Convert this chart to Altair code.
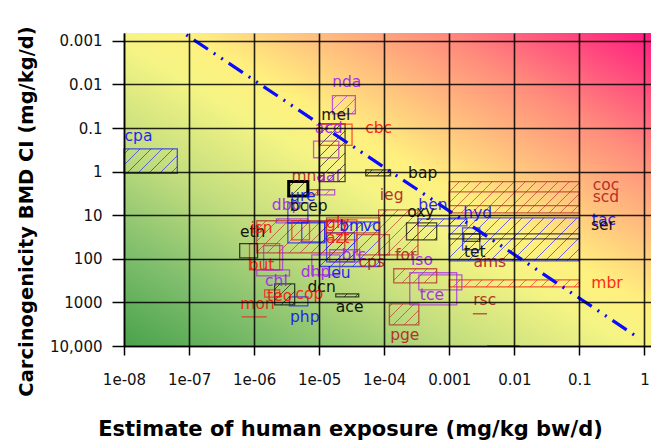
import altair as alt
import numpy as np
import pandas as pd

# ---------------- data ----------------
# rectangles: exposure range (x) and BMD range (y)
rect_name = ['cpa', 'nda', 'mel', 'acd', 'cbc', 'bap', 'aaf', 'mna', 'ure_box', 'dbp',
             'ure', 'bm', 'pm', 'gly', 'azt', 'leu', 'vc', 'isn', 'cpx', 'eth',
             'but', 'chl', 'teo', 'mon', 'dcn', 'php', 'ace', 'dhp', 'brc', 'cps',
             'gly2', 'ieg', 'oxy', 'ben', 'hyd', 'tet', 'coc', 'scd', 'tac', 'ser',
             'mbr', 'rsc', 'pge', 'tce', 'iso', 'for', 'low']
rect_x1 = [1e-8, 1.6e-5, 1.0e-5, 8.2e-6, 1.0e-5, 5.2e-5, 9.5e-6, 6.9e-6, 3.4e-6, 2.2e-6,
           3.3e-6, 3.3e-6, 5.4e-6, 3.8e-6, 1.3e-5, 1.3e-5, 1.02e-5, 8.5e-7, 1.1e-6, 6.0e-7,
           1.4e-6, 1.1e-6, 1.45e-6, 6.4e-7, 2.07e-6, 3.5e-6, 1.8e-5, 7.7e-6, 1.45e-5, 3.8e-5,
           1.3e-5, 8.2e-5, 2.2e-4, 3.3e-4, 1.6e-3, 1.67e-3, 1.0e-3, 1.0e-3, 1.0e-3, 1.0e-3,
           1.0e-3, 2.3e-3, 1.2e-4, 2.47e-4, 3.4e-4, 1.4e-4, 3.8e-3]
rect_x2 = [6.6e-8, 3.6e-5, 2.5e-5, 2.0e-5, 3.2e-5, 1.25e-4, 1.73e-5, 9.5e-6, 6.7e-6, 6.7e-6,
           6.7e-6, 1.22e-5, 1.22e-5, 7.1e-6, 3.8e-5, 3.5e-5, 8.5e-5, 2.47e-6, 2.47e-5, 1.13e-6,
           2.74e-6, 3.5e-6, 2.47e-6, 1.56e-6, 4.2e-6, 6.7e-6, 4.05e-5, 2.07e-5, 4.2e-5, 1.2e-4,
           8.5e-5, 3.3e-4, 6.4e-4, 1.86e-3, 2.94e-3, 2.94e-3, 0.1, 0.1, 0.1, 0.1,
           0.1, 3.8e-3, 3.4e-4, 1.3e-3, 1.56e-3, 6.4e-4, 1.2e-2]
rect_y1 = [0.3, 0.018, 0.08, 0.2, 0.081, 0.91, 2.6, 2.6, 1.69, 12.1,
           5.2, 14.9, 14.2, 13.4, 12.8, 25.3, 14.2, 45, 13.4, 45,
           50, 179, 514, 2140, 374, 745, 635, 81, 62, 28,
           11.5, 7.5, 14.9, 12.1, 19.5, 26.7, 1.7, 2.9, 11.5, 26.7,
           303, 1820, 1080, 209, 233, 169, 10000]
rect_y2 = [1.1, 0.047, 1.7, 0.48, 0.25, 1.25, 3.4, 3.4, 3.6, 14.9,
           14.9, 43, 40.7, 36.6, 36.6, 117, 150, 179, 73, 95,
           179, 245, 760, 2140, 1135, 1200, 745, 233, 117, 81,
           25.3, 81, 36.6, 17.5, 62, 40, 8.8, 6.0, 111, 34.8,
           438, 1820, 3270, 1135, 514, 355, 10000]
rect_group = ['blue', 'purple', 'black', 'purple', 'red', 'black', 'purple', 'brown', 'black', 'purple',
              'blue', 'blue', 'blue', 'red', 'red', 'blue', 'blue', 'red', 'brown', 'black',
              'purple', 'purple', 'red', 'red', 'black', 'blue', 'black', 'purple', 'purple', 'brown',
              'brown', 'brown', 'black', 'blue', 'blue', 'black', 'brown', 'brown', 'blue', 'black',
              'red', 'brown', 'brown', 'purple', 'purple', 'brown', 'blue']
rect_hatched = [True, True, True, False, False, True, True, True, True, True,
                False, False, False, False, False, True, True, False, True, False,
                False, False, False, False, True, False, True, False, False, False,
                False, True, True, True, False, False, True, False, True, False,
                True, False, True, False, False, True, False]
highlighted = ['ure_box']

# labels
lab_text = ['cpa', 'nda', 'mel', 'acd', 'cbc', 'bap', 'mna', 'aaf', 'ure', 'dbp',
            'bcep', 'eth', 'isn', 'gly', 'bm', 'vc', 'azt', 'ieg', 'oxy', 'ben',
            'hyd', 'tet', 'ams', 'coc', 'scd', 'tac', 'ser', 'mbr', 'rsc', 'pge',
            'tce', 'iso', 'for', 'cps', 'brc', 'leu', 'dhp', 'dcn', 'ace', 'php',
            'cop', 'teo', 'mon', 'chl', 'but']
lab_x = [1.67e-8, 2.65e-5, 1.8e-5, 1.4e-5, 8.2e-5, 3.9e-4, 6.9e-6, 1.4e-5, 5.6e-6, 3.16e-6,
         6.9e-6, 9.5e-7, 1.3e-6, 1.93e-5, 3.16e-5, 6.4e-5, 1.93e-5, 1.3e-4, 3.65e-4, 5.6e-4,
         2.74e-3, 2.47e-3, 4.2e-3, 0.256, 0.256, 0.238, 0.23, 0.265, 3.5e-3, 2.07e-4,
         5.4e-4, 3.8e-4, 2.14e-4, 6.4e-5, 3.4e-5, 2.0e-5, 8.8e-6, 1.09e-5, 2.94e-5, 6.0e-6,
         7.1e-6, 2.47e-6, 1.13e-6, 2.2e-6, 1.3e-6]
lab_y = [0.151, 0.0087, 0.05, 0.099, 0.099, 1.07, 1.25, 1.25, 3.6, 5.8,
         6.1, 24, 19.5, 14.9, 17.5, 17.5, 33, 3.4, 8.4, 5.8,
         8.8, 69, 117, 2.0, 3.8, 12.8, 16.6, 355, 871, 5530,
         670, 105, 81, 117, 81, 209, 199, 438, 1260, 2140,
         635, 706, 1080, 320, 137]
lab_group = ['blue', 'purple', 'black', 'purple', 'red', 'black', 'brown', 'purple', 'blue', 'purple',
             'black', 'black', 'red', 'red', 'blue', 'blue', 'red', 'brown', 'black', 'blue',
             'blue', 'black', 'brown', 'brown', 'brown', 'blue', 'black', 'red', 'brown', 'brown',
             'purple', 'purple', 'brown', 'brown', 'purple', 'blue', 'purple', 'black', 'black', 'blue',
             'red', 'red', 'red', 'purple', 'red']

# margin-of-exposure reference line
moe_ratio = 8000
moe_x = [1e-8, 0.8]

x_ticks = [1e-8, 1e-7, 1e-6, 1e-5, 1e-4, 1e-3, 1e-2, 1e-1, 1]
y_ticks = [1e-3, 1e-2, 1e-1, 1, 10, 100, 1000, 10000]

# ---------------- layout / scales ----------------
W, H = 527, 313
XDOM = [1e-8, 1.26]
YDOM = [6.6e-4, 1e4]

groups = ['blue', 'red', 'brown', 'purple', 'black']
group_colors = ['#1010ff', '#ff1010', '#b22222', '#a020f0', '#000000']
cscale = alt.Scale(domain=groups, range=group_colors)

xs = alt.Scale(type='log', domain=XDOM)
ys = alt.Scale(type='log', domain=YDOM, reverse=True)

rects = pd.DataFrame({'name': rect_name, 'x1': rect_x1, 'x2': rect_x2,
                      'y1': rect_y1, 'y2': rect_y2, 'group': rect_group,
                      'hatched': rect_hatched})

# hatch segments (45 degree lines in screen space), computed from rectangle data
LX0, LX1 = np.log10(XDOM)
LY0, LY1 = np.log10(YDOM)
ppx = W / (LX1 - LX0)
ppy = H / (LY1 - LY0)
SP = 11.0
hrows = []
for _, r in rects[rects.hatched].iterrows():
    u0, u1 = (np.log10([r.x1, r.x2]) - LX0) * ppx
    v0, v1 = (np.log10([r.y1, r.y2]) - LY0) * ppy
    k0 = int(np.floor((u0 + v0) / SP)) + 1
    k1 = int(np.ceil((u1 + v1) / SP))
    for k in range(k0, k1):
        c = k * SP
        a = max(u0, c - v1)
        b = min(u1, c - v0)
        if b - a > 0.5:
            hrows.append({
                'x1': 10 ** (a / ppx + LX0), 'y1': 10 ** ((c - a) / ppy + LY0),
                'x2': 10 ** (b / ppx + LX0), 'y2': 10 ** ((c - b) / ppy + LY0),
                'group': r.group})
hatch = pd.DataFrame(hrows)

labels = pd.DataFrame({'text': lab_text, 'x': lab_x, 'y': lab_y, 'group': lab_group})
line_df = pd.DataFrame({'x': moe_x, 'y': [moe_ratio * v for v in moe_x]})

# ---------------- layers ----------------
gradient = {
    'gradient': 'linear', 'x1': 0, 'y1': 1, 'x2': 1, 'y2': 0,
    'stops': [
        {'offset': 0.0, 'color': '#4aa24a'},
        {'offset': 0.15, 'color': '#7dbd6c'},
        {'offset': 0.32, 'color': '#c2dd7e'},
        {'offset': 0.48, 'color': '#f4f484'},
        {'offset': 0.56, 'color': '#fff07e'},
        {'offset': 0.66, 'color': '#ffc67e'},
        {'offset': 0.8, 'color': '#ff8a7c'},
        {'offset': 1.0, 'color': '#ff1a80'},
    ]}

bg = alt.Chart(pd.DataFrame({'k': [0]})).mark_rect(color=gradient).encode(
    x=alt.value(0), x2=alt.value(W), y=alt.value(0), y2=alt.value(H))

xenc = dict(scale=xs, axis=alt.Axis(
    values=x_ticks,
    labelExpr="datum.value < 0.0005 ? '1e-0' + (-round(log(datum.value)/LN10)) : format(datum.value, '~g')",
    title='Estimate of human exposure (mg/kg bw/d)',
    grid=True, gridColor='#000000', gridWidth=1.6, gridOpacity=0.85,
    tickSize=9, tickWidth=1.5, tickColor='#000000', domainColor='#000000', domainWidth=1.5,
    labelFont='DejaVu Sans', labelFontSize=15, labelColor='#111111', labelPadding=17,
    labelFlush=False, labelOverlap=False,
    titleFont='DejaVu Sans', titleFontSize=21, titleFontWeight='bold', titleColor='#000000',
    titleX=226, titleY=89, titleBaseline='alphabetic', titleAnchor='middle', titleAlign='center',
    zindex=1))
yenc = dict(scale=ys, axis=alt.Axis(
    values=y_ticks,
    labelExpr="datum.value >= 10000 ? '10,000' : format(datum.value, '~g')",
    title='Carcinogenicity BMD CI (mg/kg/d)',
    grid=True, gridColor='#000000', gridWidth=1.6, gridOpacity=0.85,
    tickSize=12, tickWidth=1.5, tickColor='#000000', domainColor='#000000', domainWidth=1.5,
    labelFont='DejaVu Sans', labelFontSize=15, labelColor='#111111', labelPadding=10,
    labelFlush=False, labelOverlap=False,
    titleFont='DejaVu Sans', titleFontSize=19.5, titleFontWeight='bold', titleColor='#000000',
    titleX=-92, titleY=178, titleBaseline='alphabetic', titleAlign='center', titleAngle=270,
    zindex=1))

hatch_layer = alt.Chart(hatch).mark_rule(strokeWidth=1, opacity=0.6).encode(
    x=alt.X('x1:Q', **xenc), y=alt.Y('y1:Q', **yenc),
    x2='x2:Q', y2='y2:Q',
    color=alt.Color('group:N', scale=cscale, legend=None))

rect_layer = alt.Chart(rects).mark_rect(fillOpacity=0, strokeWidth=1.3, strokeOpacity=0.7).encode(
    x=alt.X('x1:Q', scale=xs), x2='x2:Q',
    y=alt.Y('y1:Q', scale=ys), y2='y2:Q',
    stroke=alt.Stroke('group:N', scale=cscale, legend=None))

hl_layer = alt.Chart(rects).transform_filter(
    alt.FieldOneOfPredicate(field='name', oneOf=highlighted)
).mark_rect(fillOpacity=0, strokeWidth=3, stroke='#000000').encode(
    x=alt.X('x1:Q', scale=xs), x2='x2:Q',
    y=alt.Y('y1:Q', scale=ys), y2='y2:Q')

line_layer = alt.Chart(line_df).mark_line(
    color='#0a0aff', strokeWidth=3.2, strokeDash=[17, 7, 2, 7, 2, 7], clip=True
).encode(x=alt.X('x:Q', scale=xs), y=alt.Y('y:Q', scale=ys))

text_layer = alt.Chart(labels).mark_text(
    font='DejaVu Sans', fontSize=15.5, align='center', baseline='middle', opacity=0.9
).encode(
    x=alt.X('x:Q', scale=xs), y=alt.Y('y:Q', scale=ys), text='text:N',
    color=alt.Color('group:N', scale=cscale, legend=None))

chart = alt.layer(bg, hatch_layer, rect_layer, hl_layer, line_layer, text_layer).properties(
    width=W, height=H, autosize='none',
    padding={'left': 124, 'top': 33, 'right': 0, 'bottom': 97}
).configure_view(stroke=None).configure(background='white')

chart.save('out.html', embed_options={'renderer': 'svg', 'actions': False})
